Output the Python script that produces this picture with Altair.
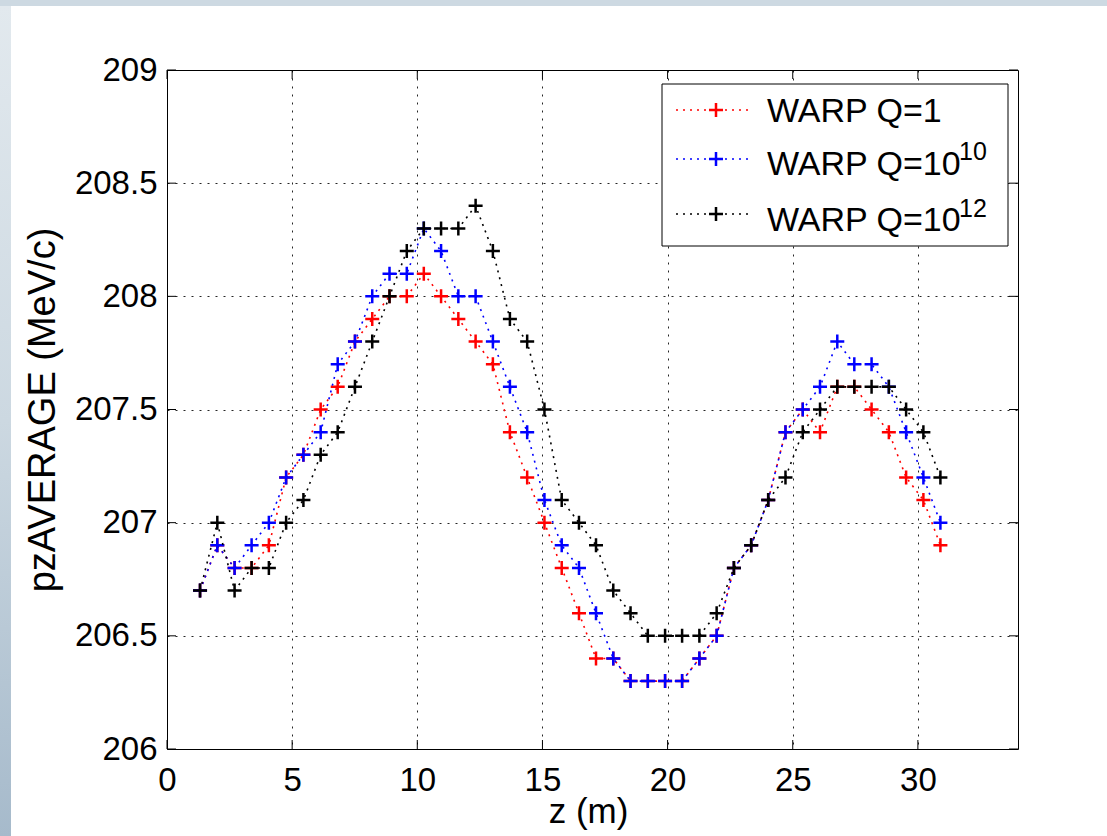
import altair as alt
import pandas as pd

# ---------------- data ----------------
z = [1.32, 2.01, 2.70, 3.38, 4.07, 4.76, 5.45, 6.14, 6.82, 7.51,
     8.20, 8.89, 9.58, 10.26, 10.95, 11.64, 12.33, 13.02, 13.70, 14.39,
     15.08, 15.77, 16.46, 17.14, 17.83, 18.52, 19.21, 19.90, 20.58, 21.27,
     21.96, 22.65, 23.34, 24.02, 24.71, 25.40, 26.09, 26.78, 27.46, 28.15,
     28.84, 29.53, 30.22, 30.90]

pz_q1 = [206.7, 206.9, 206.8, 206.8, 206.9, 207.2, 207.3, 207.5, 207.6, 207.8,
         207.9, 208.0, 208.0, 208.1, 208.0, 207.9, 207.8, 207.7, 207.4, 207.2,
         207.0, 206.8, 206.6, 206.4, 206.4, 206.3, 206.3, 206.3, 206.3, 206.4,
         206.5, 206.8, 206.9, 207.1, 207.4, 207.5, 207.4, 207.6, 207.6, 207.5,
         207.4, 207.2, 207.1, 206.9]

pz_q1e10 = [206.7, 206.9, 206.8, 206.9, 207.0, 207.2, 207.3, 207.4, 207.7, 207.8,
            208.0, 208.1, 208.1, 208.3, 208.2, 208.0, 208.0, 207.8, 207.6, 207.4,
            207.1, 206.9, 206.8, 206.6, 206.4, 206.3, 206.3, 206.3, 206.3, 206.4,
            206.5, 206.8, 206.9, 207.1, 207.4, 207.5, 207.6, 207.8, 207.7, 207.7,
            207.6, 207.4, 207.2, 207.0]

pz_q1e12 = [206.7, 207.0, 206.7, 206.8, 206.8, 207.0, 207.1, 207.3, 207.4, 207.6,
            207.8, 208.0, 208.2, 208.3, 208.3, 208.3, 208.4, 208.2, 207.9, 207.8,
            207.5, 207.1, 207.0, 206.9, 206.7, 206.6, 206.5, 206.5, 206.5, 206.5,
            206.6, 206.8, 206.9, 207.1, 207.2, 207.4, 207.5, 207.6, 207.6, 207.6,
            207.6, 207.5, 207.4, 207.2]

x_ticks = [0, 5, 10, 15, 20, 25, 30]
y_ticks = [206, 206.5, 207, 207.5, 208, 208.5, 209]

series_values = [pz_q1, pz_q1e10, pz_q1e12]
series_labels = ["WARP Q=1", "WARP Q=10", "WARP Q=10"]
series_sups = ["", "10", "12"]
series_colors = ["#ff0000", "#0000ff", "#000000"]

# ---------------- styling ----------------
W, H = 851, 679
FONT = "Liberation Sans"
PLUS = "M-1,0L1,0M0,-1L0,1"

xscale = alt.Scale(domain=[0, 34], nice=False, zero=False)
yscale = alt.Scale(domain=[206, 209], nice=False, zero=False)

xaxis = alt.Axis(values=x_ticks, title="z (m)", grid=True, ticks=False, domain=False,
                 labelPadding=15, labelFontSize=33, labelFont=FONT, labelFlush=False,
                 titleFontSize=35, titleFont=FONT, titleX=421, titleY=73,
                 titleAlign="center", titleBaseline="alphabetic")
yaxis = alt.Axis(values=y_ticks, title="pzAVERAGE (MeV/c)", grid=True, ticks=False,
                 domain=False, format="~f", labelPadding=10, labelFontSize=33,
                 labelFont=FONT, labelFlush=False, titleFontSize=38, titleFont=FONT,
                 titleX=-124, titleY=H / 2, titleAngle=270, titleAlign="center",
                 titleBaseline="middle")


def X():
    return alt.X("z:Q", scale=xscale, axis=xaxis)


def Y():
    return alt.Y("p:Q", scale=yscale, axis=yaxis)


one = pd.DataFrame({"a": [0]})
layers = []

# page frame (light blue strips on top and left)
layers.append(alt.Chart(one).mark_rect(fill="#cdd9e2").encode(
    x=alt.value(-167), x2=alt.value(940), y=alt.value(-70), y2=alt.value(-64)))
layers.append(alt.Chart(one).mark_rect(
    fill=alt.LinearGradient(gradient="linear",
                            stops=[alt.GradientStop(offset=0, color="#e2e9ee"),
                                   alt.GradientStop(offset=0.5, color="#ccd8e1"),
                                   alt.GradientStop(offset=1, color="#a6bacb")],
                            x1=0, x2=0, y1=0, y2=1)).encode(
    x=alt.value(-167), x2=alt.value(-156), y=alt.value(-64), y2=alt.value(766)))

# inward tick marks on all four sides
xt = pd.DataFrame({"z": x_ticks})
yt = pd.DataFrame({"p": y_ticks})
layers.append(alt.Chart(xt).mark_rule(color="black", strokeWidth=1).encode(
    x=X(), y=alt.value(H), y2=alt.value(H - 9)))
layers.append(alt.Chart(xt).mark_rule(color="black", strokeWidth=1).encode(
    x=X(), y=alt.value(0), y2=alt.value(9)))
layers.append(alt.Chart(yt).mark_rule(color="black", strokeWidth=1).encode(
    y=Y(), x=alt.value(0), x2=alt.value(9)))
layers.append(alt.Chart(yt).mark_rule(color="black", strokeWidth=1).encode(
    y=Y(), x=alt.value(W), x2=alt.value(W - 9)))

# data series: dotted line + plus markers, drawn in order red, blue, black
for vals, col in zip(series_values, series_colors):
    df = pd.DataFrame({"z": z, "p": vals})
    layers.append(alt.Chart(df).mark_line(color=col, strokeDash=[2, 5],
                                          strokeWidth=1.6).encode(x=X(), y=Y()))
    layers.append(alt.Chart(df).mark_point(shape=PLUS, size=196, filled=False,
                                           stroke=col, strokeWidth=2.5,
                                           opacity=1).encode(x=X(), y=Y()))

# legend box
layers.append(alt.Chart(one).mark_rect(fill="white", stroke="black",
                                       strokeWidth=1).encode(
    x=alt.value(495), x2=alt.value(841), y=alt.value(14), y2=alt.value(176)))
sym_y = [40, 89, 144]
txt_y = [52, 105, 161]
sup_y = [0, 90, 147]
for i in range(3):
    col = series_colors[i]
    layers.append(alt.Chart(one).mark_rule(color=col, strokeDash=[2, 5],
                                           strokeWidth=1.6).encode(
        x=alt.value(509), x2=alt.value(586), y=alt.value(sym_y[i])))
    layers.append(alt.Chart(one).mark_point(shape=PLUS, size=196, filled=False,
                                            stroke=col, strokeWidth=2.5,
                                            opacity=1).encode(
        x=alt.value(549), y=alt.value(sym_y[i])))
    layers.append(alt.Chart(one).mark_text(text=series_labels[i], align="left",
                                           baseline="alphabetic", fontSize=34,
                                           font=FONT, color="black").encode(
        x=alt.value(600), y=alt.value(txt_y[i])))
    if series_sups[i]:
        layers.append(alt.Chart(one).mark_text(text=series_sups[i], align="left",
                                               baseline="alphabetic", fontSize=25,
                                               font=FONT, color="black").encode(
            x=alt.value(792), y=alt.value(sup_y[i])))

chart = alt.layer(*layers).properties(
    width=W, height=H,
    autosize=alt.AutoSizeParams(type="none"),
    padding={"left": 167, "top": 70, "right": 89, "bottom": 87},
    background="white",
).configure_view(stroke="black", strokeWidth=1).configure_axis(
    labelColor="black", titleColor="black", gridColor="black",
    gridDash=[2, 6], gridOpacity=0.85, gridWidth=1, titleFontWeight="normal")

chart.save("out.html", embed_options={"renderer": "svg", "actions": False})
